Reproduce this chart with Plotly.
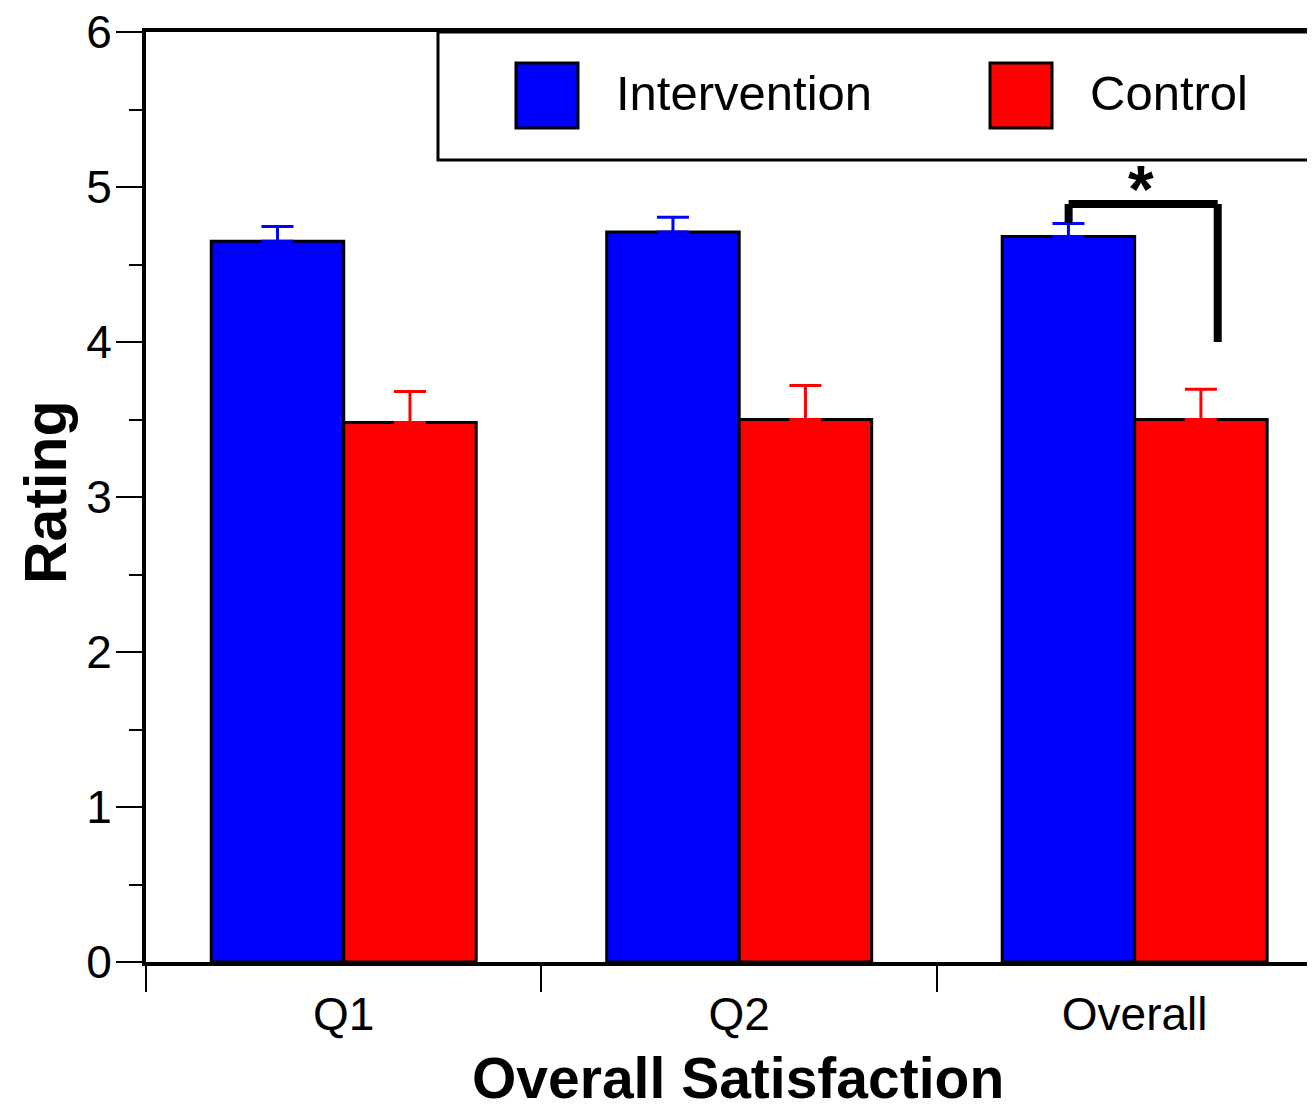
import plotly.graph_objects as go

categories = ["Q1", "Q2", "Overall"]
intervention = [4.65, 4.71, 4.68]
intervention_err = [0.095, 0.095, 0.085]
control = [3.48, 3.50, 3.50]
control_err = [0.20, 0.22, 0.195]
y_ticks = [0, 1, 2, 3, 4, 5, 6]

# significance bracket (data units)
sig_x_left = 1.833
sig_x_right = 2.21
sig_y_top = 4.89
sig_y_left_bottom = 4.77
sig_y_right_bottom = 4.0
sig_star_x = 2.015
sig_star_y = 4.89

FONT = "Liberation Sans, Arial, Helvetica, sans-serif"
OFF = 8  # page body margin
W, H = 1315 - OFF, 1107 - OFF
L, T, B, R = 146 - OFF, 32 - OFF, 145, 0
PW, PH = W - L - R, H - T - B

def px(x):
    # page pixel -> paper fraction
    return (x - OFF - L) / PW

def py(y):
    return (H - B - (y - OFF)) / PH

fig = go.Figure()
fig.add_trace(go.Bar(
    x=categories, y=intervention, name="Intervention",
    marker=dict(color="#0000ff", line=dict(color="black", width=3)),
    error_y=dict(type="data", array=intervention_err, symmetric=False,
                 arrayminus=[0] * len(intervention_err),
                 color="#0000ff", thickness=3, width=16),
    showlegend=False,
))
fig.add_trace(go.Bar(
    x=categories, y=control, name="Control",
    marker=dict(color="#ff0000", line=dict(color="black", width=3)),
    error_y=dict(type="data", array=control_err, symmetric=False,
                 arrayminus=[0] * len(control_err),
                 color="#ff0000", thickness=3, width=16),
    showlegend=False,
))

shapes = []
for (x0, y0, x1, y1) in [
    (sig_x_left, sig_y_left_bottom, sig_x_left, sig_y_top),
    (sig_x_left, sig_y_top, sig_x_right, sig_y_top),
    (sig_x_right, sig_y_top, sig_x_right, sig_y_right_bottom),
]:
    shapes.append(dict(type="line", xref="x", yref="y", x0=x0, y0=y0, x1=x1, y1=y1,
                       line=dict(color="black", width=8)))

# legend box
shapes.append(dict(type="rect", xref="paper", yref="paper",
                   x0=px(438), x1=px(1340), y0=py(160), y1=py(32),
                   line=dict(color="black", width=3), fillcolor="white", layer="above"))
shapes.append(dict(type="rect", xref="paper", yref="paper",
                   x0=px(516), x1=px(578), y0=py(128), y1=py(63),
                   line=dict(color="black", width=3), fillcolor="#0000ff", layer="above"))
shapes.append(dict(type="rect", xref="paper", yref="paper",
                   x0=px(990), x1=px(1052), y0=py(128), y1=py(63),
                   line=dict(color="black", width=3), fillcolor="#ff0000", layer="above"))

annotations = [
    dict(text="Intervention", xref="paper", yref="paper", x=px(614), y=py(93),
         xanchor="left", yanchor="middle", showarrow=False,
         font=dict(family=FONT, size=49, color="black")),
    dict(text="Control", xref="paper", yref="paper", x=px(1088), y=py(93),
         xanchor="left", yanchor="middle", showarrow=False,
         font=dict(family=FONT, size=49, color="black")),
    dict(text="<b>*</b>", xref="x", yref="y", x=sig_star_x, y=sig_star_y,
         xanchor="center", yanchor="bottom", showarrow=False, yshift=-24,
         font=dict(family=FONT, size=66, color="black")),
    dict(text="<b>Rating</b>", xref="paper", yref="paper", x=px(46), y=py(492),
         xanchor="center", yanchor="middle", textangle=-90, showarrow=False,
         font=dict(family=FONT, size=59, color="black")),
    dict(text="<b>Overall Satisfaction</b>", xref="paper", yref="paper", x=px(738), y=py(1078),
         xanchor="center", yanchor="middle", showarrow=False,
         font=dict(family=FONT, size=57, color="black")),
]

fig.update_layout(
    width=W, height=H,
    margin=dict(l=L, r=R, t=T, b=B, autoexpand=False),
    paper_bgcolor="white", plot_bgcolor="white",
    barmode="group", bargap=0.33, bargroupgap=0,
    shapes=shapes, annotations=annotations,
    font=dict(family=FONT, color="black"),
    xaxis=dict(
        type="category", range=[-0.5, 2.456],
        showline=True, linecolor="black", linewidth=4, mirror=True,
        ticks="outside", tickson="boundaries", ticklen=26, tickwidth=2, tickcolor="black",
        tickfont=dict(family=FONT, size=46, color="black"),
        ticklabelstandoff=9, ticklabeloverflow="allow",
        showgrid=False, zeroline=False,
    ),
    yaxis=dict(
        range=[0, 6], tickvals=y_ticks,
        showline=True, linecolor="black", linewidth=4, mirror=False,
        ticks="outside", ticklen=26, tickwidth=2, tickcolor="black",
        tickfont=dict(family=FONT, size=46, color="black"),
        ticklabelstandoff=-5, ticklabeloverflow="allow",
        minor=dict(dtick=0.5, ticks="outside", ticklen=13, tickwidth=2, tickcolor="black"),
        showgrid=False, zeroline=False,
    ),
)

fig.write_html("out.html")
